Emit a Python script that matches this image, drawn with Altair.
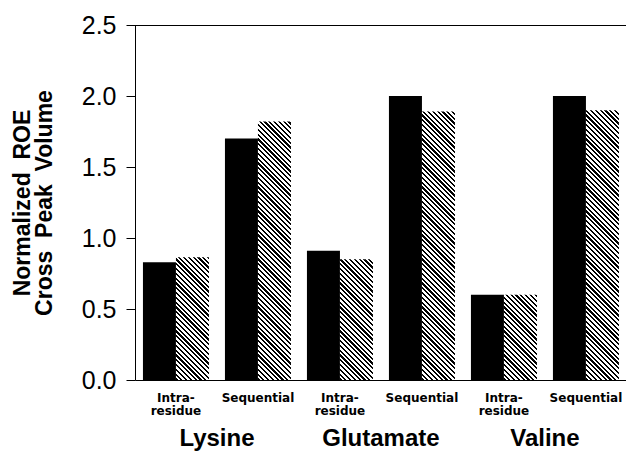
import altair as alt
import pandas as pd

# ---- data ----
aminos = ["Lysine", "Glutamate", "Valine"]
types = ["Intra-\nresidue", "Sequential"]
solid_vals = [0.83, 1.70, 0.91, 2.00, 0.60, 2.00]
hatched_vals = [0.865, 1.82, 0.85, 1.89, 0.60, 1.90]
y_ticks = [0.0, 0.5, 1.0, 1.5, 2.0, 2.5]
y_title = ["Normalized\u00a0\u00a0ROE", "Cross\u00a0\u00a0Peak\u00a0\u00a0Volume"]

cats = [f"{a}|{t}" for a in aminos for t in types]
rows = []
for i, (c, s, h) in enumerate(zip(cats, solid_vals, hatched_vals)):
    rows.append({"cat": c, "idx": i, "series": "solid", "value": s})
    rows.append({"cat": c, "idx": i, "series": "hatched", "value": h})
df = pd.DataFrame(rows)
label_df = pd.DataFrame({"cat": [cats[0], cats[2], cats[4]], "name": aminos})
top_df = pd.DataFrame({"value": [y_ticks[-1]]})

# ---- layout ----
W, H = 491, 355
YMAX = y_ticks[-1]
PI, PO, ALIGN = 0.195, 0.0915, 0.53
step = W / (len(cats) - PI + 2 * PO)
bar_w = step * (1 - PI) / 2


def hatch(value, period=4.8, frac=0.45):
    """Diagonal '\\' hatching as a linear gradient in bar bbox units."""
    w = bar_w
    h = max(value * H / YMAX, 1.0)
    c = (w + h) / (w * w + h * h)
    d = period / (w + h)
    stops = []
    k = 0
    while k * d < 1:
        a = k * d
        b = min(a + frac * d, 1.0)
        e = min(a + d, 1.0)
        stops += [
            {"offset": round(a, 5), "color": "black"},
            {"offset": round(b, 5), "color": "black"},
            {"offset": round(b, 5), "color": "white"},
            {"offset": round(e, 5), "color": "white"},
        ]
        k += 1
    return {"gradient": "linear", "x1": 0, "y1": 1, "x2": c * w, "y2": 1 - c * h, "stops": stops}


x_enc = alt.X(
    "cat:N",
    sort=cats,
    scale=alt.Scale(domain=cats, paddingInner=PI, paddingOuter=PO, align=ALIGN),
    axis=alt.Axis(
        title=None,
        labelExpr="split(split(datum.value, '|')[1], '\\n')",
        labelAngle=0,
        ticks=False,
        tickSize=0,
        labelPadding=12,
        labelFont="DejaVu Sans",
        labelFontWeight="bold",
        labelFontSize=12,
        labelLineHeight=13,
        labelBaseline="top",
        labelColor="black",
        domainColor="black",
        domainWidth=1,
    ),
)
xo_enc = alt.XOffset("series:N", sort=["solid", "hatched"],
                     scale=alt.Scale(domain=["solid", "hatched"], paddingInner=0, paddingOuter=0))
y_enc = alt.Y(
    "value:Q",
    scale=alt.Scale(domain=[0, YMAX], nice=False),
    axis=alt.Axis(
        values=y_ticks,
        format=".1f",
        title=y_title,
        titleFont="Liberation Sans",
        titleFontSize=23,
        titleFontWeight="bold",
        titleColor="black",
        titleAngle=270,
        titleAlign="center",
        titleBaseline="top",
        titleX=-124,
        titleY=H / 2,
        titleLineHeight=22,
        labelFont="Liberation Sans",
        labelFontSize=25,
        labelColor="black",
        labelPadding=10,
        tickSize=9,
        tickColor="black",
        domainColor="black",
        grid=False,
    ),
)

base = alt.Chart(df).encode(x=x_enc, xOffset=xo_enc, y=y_enc)
layers = [base.mark_bar(color="black").transform_filter("datum.series == 'solid'")]
for i, v in enumerate(hatched_vals):
    layers.append(
        base.mark_bar(fill=hatch(v), strokeWidth=0).transform_filter(
            f"datum.series == 'hatched' && datum.idx == {i}"
        )
    )

top_rule = alt.Chart(top_df).mark_rule(color="black", strokeWidth=1, yOffset=0.5).encode(y=y_enc)

group_text = alt.Chart(label_df).mark_text(
    font="Liberation Sans", fontSize=24, fontWeight="bold", color="black",
    align="center", baseline="alphabetic", dx=step / 2,
).encode(x=x_enc, y=alt.value(H + 66), text="name:N")

chart = (
    alt.layer(*layers, top_rule, group_text)
    .properties(
        width=W,
        height=H,
        autosize=alt.AutoSizeParams(type="none"),
        padding={"left": 135, "top": 25, "right": 0, "bottom": 72},
        background="white",
    )
    .configure_view(stroke=None)
    .configure_axis(grid=False)
)

chart.save("out.html", embed_options={"renderer": "svg", "actions": False})
